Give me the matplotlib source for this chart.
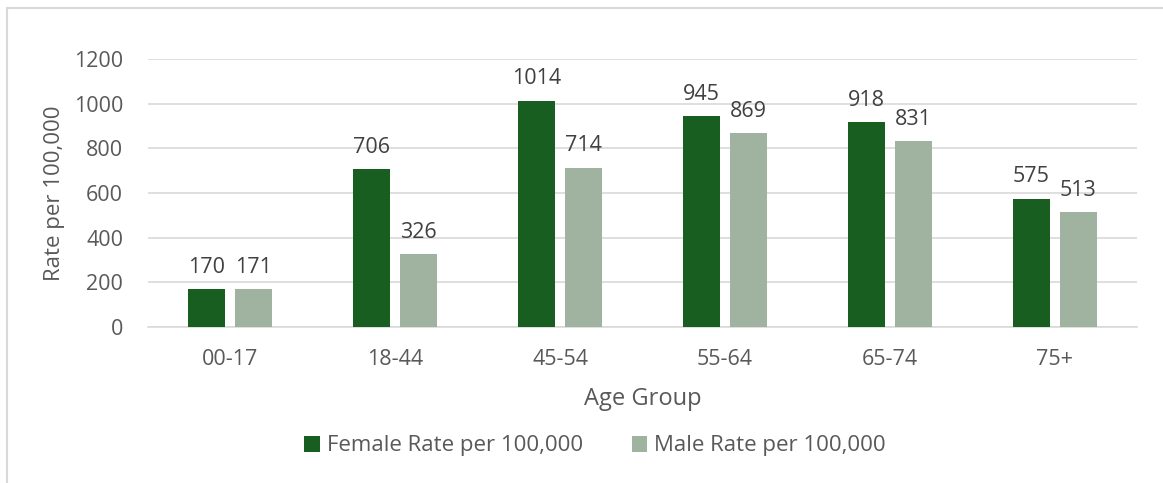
import numpy as np
import matplotlib.pyplot as plt
from matplotlib.patches import Rectangle

plt.rcParams['font.family'] = ['Open Sans', 'DejaVu Sans']

groups = ['00-17', '18-44', '45-54', '55-64', '65-74', '75+']
female = [170, 706, 1014, 945, 918, 575]
male = [171, 326, 714, 869, 831, 513]
yticks = [0, 200, 400, 600, 800, 1000, 1200]

fig = plt.figure(figsize=(11.63, 4.83), dpi=100)
ax = fig.add_axes([148/1163, 1-327/483, (1137-148)/1163, (327-59)/483])

# chart frame (clipped by image edge on top/right)
fig.patches.append(Rectangle((7/1163, -0.1), 1.2, 1.1 - 8/483, transform=fig.transFigure,
                             fill=False, edgecolor='#d9d9d9', lw=1.5))

x = np.arange(len(groups))
w = 0.225
gap = 0.06
c_f = '#185e20'
c_m = '#a0b2a0'
bf = ax.bar(x - (w + gap)/2, female, w, color=c_f, label='Female Rate per 100,000', zorder=3)
bm = ax.bar(x + (w + gap)/2, male, w, color=c_m, label='Male Rate per 100,000', zorder=3)

for bars in (bf, bm):
    for b in bars:
        ax.annotate(str(int(b.get_height())), (b.get_x() + b.get_width()/2, b.get_height()),
                    xytext=(0, 8), textcoords='offset points', ha='center', va='bottom',
                    fontsize=15.5, color='#404040')

ax.set_xlim(-0.5, len(groups) - 0.5)
ax.set_ylim(0, 1200)
ax.set_yticks(yticks)
ax.set_xticks(x)
ax.set_xticklabels(groups)
ax.yaxis.grid(True, color='#d9d9d9', lw=1.2, zorder=0)
ax.set_axisbelow(True)
for s in ['top', 'right', 'left']:
    ax.spines[s].set_visible(False)
ax.spines['bottom'].set_color('#d9d9d9')
ax.spines['bottom'].set_linewidth(1.2)
ax.tick_params(axis='both', length=0, labelsize=15.5, labelcolor='#595959')
ax.tick_params(axis='y', pad=18)
ax.tick_params(axis='x', pad=16)
ax.set_xlabel('Age Group', fontsize=17, color='#595959', labelpad=12)
ax.set_ylabel('Rate per 100,000', fontsize=16, color='#595959', labelpad=6)

fig.legend(handles=[bf, bm], loc='center', bbox_to_anchor=(595/1163, 1-446/483), ncol=2,
           frameon=False, fontsize=16, labelcolor='#595959', handlelength=0.7,
           handleheight=0.7, handletextpad=0.3, columnspacing=2.2)

fig.savefig('out.png', dpi=100)
